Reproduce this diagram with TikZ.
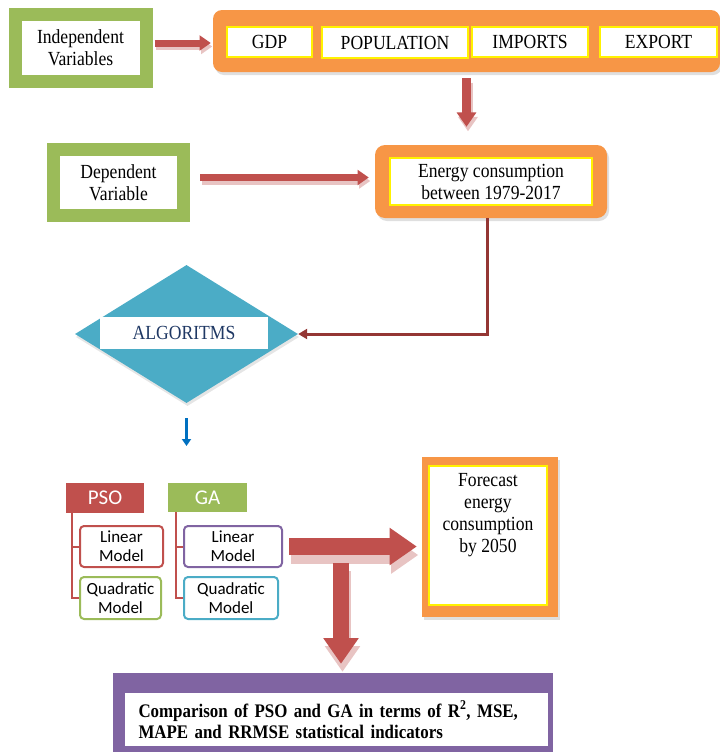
\documentclass[tikz,border=0pt]{standalone}
\usepackage{fontspec}
\setmainfont{Liberation Serif}
\newfontfamily\narrowserif[FakeStretch=0.88]{Liberation Serif}
\newfontfamily\calib{Carlito}
\usetikzlibrary{shapes.geometric,arrows.meta,shadows,calc}

\definecolor{leaf}{HTML}{9BBB59}
\definecolor{tangerine}{HTML}{F79646}
\definecolor{brick}{HTML}{C0504D}
\definecolor{maroon}{HTML}{943634}
\definecolor{teal}{HTML}{4BACC6}
\definecolor{royal}{HTML}{0070C0}
\definecolor{violet}{HTML}{8064A2}
\definecolor{navy}{HTML}{1F3864}
\definecolor{rosy}{HTML}{E8C4C3}

\newcommand\boxfont{\narrowserif\fontsize{20}{22}\selectfont}
\newcommand\modelfont{\calib\fontsize{17}{19}\selectfont}

\begin{document}
\begin{tikzpicture}[x=1pt, y=-1pt,
  greenbox/.style = {draw=leaf, line width=13pt, fill=white, inner sep=0pt, align=center, font=\boxfont,
                     drop shadow={shadow xshift=3pt, shadow yshift=-3pt, fill=black!25}},
  orangebox/.style = {fill=tangerine, inner sep=0pt, drop shadow={shadow xshift=2pt, shadow yshift=-3pt, fill=black!25}},
  cell/.style = {draw=yellow, line width=1.5pt, fill=white, inner sep=0pt, align=center, font=\boxfont},
  head/.style = {inner sep=0pt, text=white, font=\calib\fontsize{21}{23}\selectfont},
  model/.style = {draw=#1, line width=2pt, rounded corners=4pt, fill=white, inner sep=0pt, align=center, font=\modelfont},
  treeline/.style = {draw=brick, line width=2pt},
  fatarrow/.style = {draw=brick, line width=#1, -{Triangle[length=1.6*#1, width=2.1*#1]},
                     preaction={draw=rosy, line width=#1, -{Triangle[length=1.6*#1, width=2.1*#1]},
                                transform canvas={shift={(1.5pt,-0.5*#1)}}}}]

\useasboundingbox (0,0) rectangle (720,753);

% inputs
\node[greenbox, minimum width=131, minimum height=67] (indep) at (80.5,48) {Independent\\Variables};
\node[orangebox, rounded corners=9pt, minimum width=507, minimum height=62] (vars) at (466.5,41) {};
\node[cell, minimum width=85, minimum height=30] (gdp) at (269.5,42) {GDP};
\node[cell, minimum width=146, minimum height=31] (pop) at (395,42.5) {POPULATION};
\node[cell, minimum width=116, minimum height=30] (imp) at (530,42) {IMPORTS};
\node[cell, minimum width=117, minimum height=30] (exp) at (658.5,42) {EXPORT};

\node[greenbox, minimum width=130, minimum height=66] (dep) at (118.5,182.5) {Dependent\\Variable};
\node[orangebox, rounded corners=10pt, minimum width=232, minimum height=73] (energy) at (491,181.5) {};
\node[cell, minimum width=202, minimum height=47] (energytxt) at (491,181.5) {Energy consumption\\between 1979-2017};

% algorithms
\node[diamond, fill=teal, minimum width=223, minimum height=138, inner sep=0pt,
      drop shadow={shadow xshift=1pt, shadow yshift=-3pt, fill=black!20}] (alg) at (186.5,334) {};
\node[fill=white, minimum width=168, minimum height=32, inner sep=0pt, text=navy, font=\boxfont] (algtxt) at (184,332.5) {ALGORITMS};
\coordinate (algout) at (186.5,446);

\node[head, fill=brick, minimum width=78, minimum height=30] (pso) at (105,498) {PSO};
\node[head, fill=leaf, minimum width=79, minimum height=29] (ga) at (207.5,497.5) {GA};
\node[model=brick, minimum width=83, minimum height=41] (psolin) at (121.5,546.5) {Linear\\Model};
\node[model=leaf, minimum width=81, minimum height=42] (psoquad) at (120.5,598) {Quadratic\\Model};
\node[model=violet, minimum width=98, minimum height=41] (galin) at (233,546.5) {Linear\\Model};
\node[model=teal, minimum width=94, minimum height=42] (gaquad) at (231,598) {Quadratic\\Model};

% outputs
\node[orangebox, minimum width=136, minimum height=160] (forecast) at (490,537) {};
\node[cell, minimum width=118, minimum height=139,
      label={[anchor=north, align=center, font=\boxfont, yshift=-5pt]north:Forecast\\energy\\consumption\\by 2050}] (forecasttxt) at (488,535.5) {};
\coordinate (split) at (341,563);

\node[fill=violet, minimum width=440, minimum height=79, inner sep=0pt] (cmp) at (333,712.5) {};
\node[fill=white, minimum width=423, minimum height=53, inner sep=0pt, text width=396pt, align=left,
      font=\narrowserif\bfseries\fontsize{19.2}{21}\selectfont] (cmptxt) at (336.5,719.5)
      {Comparison of PSO and GA in terms of R\textsuperscript{2}, MSE,\\MAPE and RRMSE statistical indicators};

% connectors
\draw[fatarrow=7pt, shorten <=2pt, shorten >=2pt] ([yshift=5pt]indep.east) -- ([yshift=-2pt]vars.west);
\draw[fatarrow=7pt, shorten <=10pt, shorten >=6pt] ([yshift=5pt]dep.east) -- ([yshift=4pt]energy.west);
\draw[fatarrow=9pt, shorten <=6pt, shorten >=18pt] (vars.south) -- (vars.south |- energy.north);
\draw[maroon, line width=3pt, -{Triangle[length=9pt, width=10pt]}] ([xshift=-4pt]energy.south) |- (alg.east);
\draw[royal, line width=2.5pt, -{Triangle[length=7pt, width=9pt]}, shorten <=15pt] (alg.south) -- (algout);

\draw[treeline] ($(pso.south west)+(6,0)$) |- (psolin.west);
\draw[treeline] ($(pso.south west)+(6,0)$) |- (psoquad.west);
\draw[treeline] ($(ga.south west)+(8,0)$) |- (galin.west);
\draw[treeline] ($(ga.south west)+(8,0)$) |- (gaquad.west);

\draw[fatarrow=17pt, shorten <=6pt, shorten >=5pt] (galin.east) -- (galin.east -| forecast.west);
\draw[fatarrow=16pt, shorten >=9pt] (split) -- (split |- cmp.north);

\end{tikzpicture}
\end{document}
